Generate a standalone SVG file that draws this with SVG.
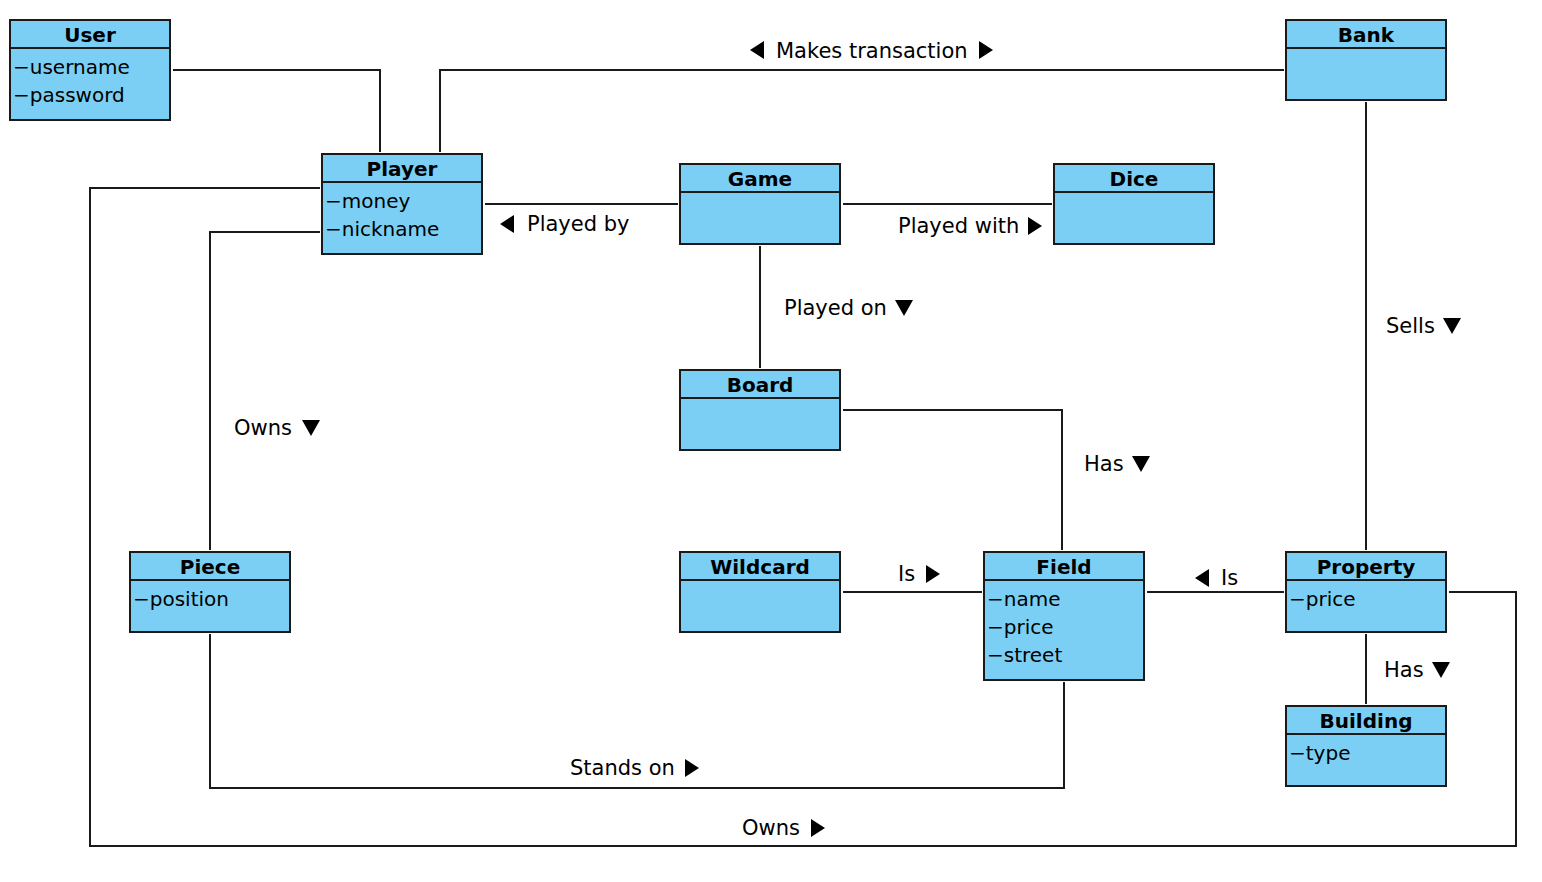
<svg xmlns="http://www.w3.org/2000/svg" width="1542" height="882" viewBox="0 0 1542 882">
<style>
.box{fill:#7BCFF4;stroke:#1a1a1a;stroke-width:2}
.sep{stroke:#1a1a1a;stroke-width:2}
.t{font-family:"DejaVu Sans",sans-serif;font-size:20px;font-weight:bold;text-anchor:middle;fill:#000}
.a{font-family:"DejaVu Sans",sans-serif;font-size:20px;fill:#000}
.lbl{font-family:"DejaVu Sans",sans-serif;font-size:21px;fill:#000}
.c{fill:none;stroke:#1a1a1a;stroke-width:2}
.tri{fill:#000}
</style>
<rect width="1542" height="882" fill="#fff"/>
<g id="connectors">
<polyline class="c" points="173,70 380,70 380,152"/>
<polyline class="c" points="440,152 440,70 1284,70"/>
<polyline class="c" points="485,204 678,204"/>
<polyline class="c" points="843,204 1052,204"/>
<polyline class="c" points="760,246 760,368"/>
<polyline class="c" points="843,410 1062,410 1062,550"/>
<polyline class="c" points="320,232 210,232 210,550"/>
<polyline class="c" points="320,188 90,188 90,846 1516,846 1516,592 1449,592"/>
<polyline class="c" points="210,634 210,788 1064,788 1064,682"/>
<polyline class="c" points="843,592 982,592"/>
<polyline class="c" points="1147,592 1284,592"/>
<polyline class="c" points="1366,102 1366,550"/>
<polyline class="c" points="1366,634 1366,704"/>
</g>
<g id="labels">
<polygon class="tri" points="764,41 764,59 750,50"/>
<text class="lbl" x="776" y="58">Makes transaction</text>
<polygon class="tri" points="979,41 979,59 993,50"/>
<polygon class="tri" points="514,215 514,233 500,224"/>
<text class="lbl" x="527" y="231">Played by</text>
<text class="lbl" x="898" y="233">Played with</text>
<polygon class="tri" points="1028,217 1028,235 1042,226"/>
<text class="lbl" x="784" y="315">Played on</text>
<polygon class="tri" points="895,300 913,300 904,316"/>
<text class="lbl" x="1386" y="333">Sells</text>
<polygon class="tri" points="1443,318 1461,318 1452,334"/>
<text class="lbl" x="234" y="435">Owns</text>
<polygon class="tri" points="302,420 320,420 311,436"/>
<text class="lbl" x="1084" y="471">Has</text>
<polygon class="tri" points="1132,456 1150,456 1141,472"/>
<text class="lbl" x="898" y="581">Is</text>
<polygon class="tri" points="926,565 926,583 940,574"/>
<polygon class="tri" points="1209,569 1209,587 1195,578"/>
<text class="lbl" x="1221" y="585">Is</text>
<text class="lbl" x="1384" y="677">Has</text>
<polygon class="tri" points="1432,662 1450,662 1441,678"/>
<text class="lbl" x="570" y="775">Stands on</text>
<polygon class="tri" points="685,759 685,777 699,768"/>
<text class="lbl" x="742" y="835">Owns</text>
<polygon class="tri" points="811,819 811,837 825,828"/>
</g>
<g id="user"><rect class="box" x="10" y="20" width="160" height="100"/><line class="sep" x1="10" y1="48" x2="170" y2="48"/><text class="t" x="90" y="42">User</text><text class="a" x="13" y="74">−username</text><text class="a" x="13" y="102">−password</text></g>
<g id="player"><rect class="box" x="322" y="154" width="160" height="100"/><line class="sep" x1="322" y1="182" x2="482" y2="182"/><text class="t" x="402" y="176">Player</text><text class="a" x="325" y="208">−money</text><text class="a" x="325" y="236">−nickname</text></g>
<g id="game"><rect class="box" x="680" y="164" width="160" height="80"/><line class="sep" x1="680" y1="192" x2="840" y2="192"/><text class="t" x="760" y="186">Game</text></g>
<g id="dice"><rect class="box" x="1054" y="164" width="160" height="80"/><line class="sep" x1="1054" y1="192" x2="1214" y2="192"/><text class="t" x="1134" y="186">Dice</text></g>
<g id="bank"><rect class="box" x="1286" y="20" width="160" height="80"/><line class="sep" x1="1286" y1="48" x2="1446" y2="48"/><text class="t" x="1366" y="42">Bank</text></g>
<g id="board"><rect class="box" x="680" y="370" width="160" height="80"/><line class="sep" x1="680" y1="398" x2="840" y2="398"/><text class="t" x="760" y="392">Board</text></g>
<g id="piece"><rect class="box" x="130" y="552" width="160" height="80"/><line class="sep" x1="130" y1="580" x2="290" y2="580"/><text class="t" x="210" y="574">Piece</text><text class="a" x="133" y="606">−position</text></g>
<g id="wildcard"><rect class="box" x="680" y="552" width="160" height="80"/><line class="sep" x1="680" y1="580" x2="840" y2="580"/><text class="t" x="760" y="574">Wildcard</text></g>
<g id="field"><rect class="box" x="984" y="552" width="160" height="128"/><line class="sep" x1="984" y1="580" x2="1144" y2="580"/><text class="t" x="1064" y="574">Field</text><text class="a" x="987" y="606">−name</text><text class="a" x="987" y="634">−price</text><text class="a" x="987" y="662">−street</text></g>
<g id="property"><rect class="box" x="1286" y="552" width="160" height="80"/><line class="sep" x1="1286" y1="580" x2="1446" y2="580"/><text class="t" x="1366" y="574">Property</text><text class="a" x="1289" y="606">−price</text></g>
<g id="building"><rect class="box" x="1286" y="706" width="160" height="80"/><line class="sep" x1="1286" y1="734" x2="1446" y2="734"/><text class="t" x="1366" y="728">Building</text><text class="a" x="1289" y="760">−type</text></g>
</svg>
